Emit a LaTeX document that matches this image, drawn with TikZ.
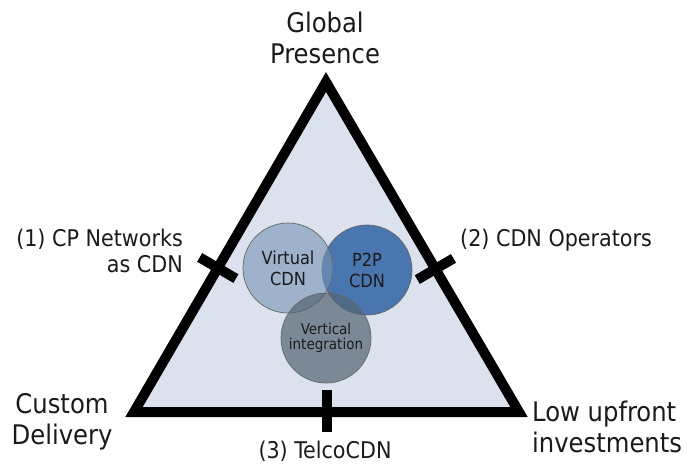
\documentclass[tikz,border=0pt]{standalone}
\usepackage{fontspec}
\setmainfont{DejaVu Sans Condensed}
\usetikzlibrary{calc}
\definecolor{trifill}{HTML}{DBE2EE}
\definecolor{virtc}{HTML}{7693B5}
\definecolor{p2pc}{HTML}{255C9E}
\definecolor{vertc}{HTML}{536473}
\definecolor{txt}{HTML}{1A1A1A}
\tikzset{
  edge/.style={line width=10pt, line join=miter},
  tickmark/.style={line width=10pt},
  bigtxt/.style={font=\fontsize{27}{31}\selectfont, text=txt, inner sep=0pt},
  medtxt/.style={font=\fontsize{23}{26}\selectfont, text=txt, inner sep=0pt},
  ball/.style={circle, minimum size=90pt, inner sep=0pt, draw=black!60, line width=0.7pt, text=txt, align=center},
}
\begin{document}
\begin{tikzpicture}[x=1pt,y=-1pt]
\useasboundingbox (0,0) rectangle (692,464);
\coordinate (A) at (326,82);
\coordinate (L) at (134,412);
\coordinate (R) at (519,412);
\fill[trifill] (A) -- (L) -- (R) -- cycle;
% circles
\node[ball, fill=p2pc, fill opacity=0.8, text opacity=1, font=\fontsize{18}{21}\selectfont] (p2p) at (367,270) {P2P\\CDN};
\node[ball, fill=virtc, fill opacity=0.6, text opacity=1, font=\fontsize{18}{21}\selectfont] (virt) at (288,268) {Virtual\\CDN};
\node[ball, fill=vertc, fill opacity=0.7, text opacity=1, font=\fontsize{15}{15}\selectfont] (vert) at (326,338) {Vertical\\integration};
% triangle outline
\draw[edge] (A) -- (L) -- (R) -- cycle;
% ticks
\coordinate (t1) at ($(A)!0.5636!(L)$);
\coordinate (t2) at ($(A)!0.5667!(R)$);
\draw[tickmark] ($(t1)+(-18.1,-10.6)$) coordinate (t1a) -- ($(t1)+(18.1,10.6)$) coordinate (t1b);
\draw[tickmark] ($(t2)+(-18.1,10.6)$) coordinate (t2a) -- ($(t2)+(18.1,-10.6)$) coordinate (t2b);
\draw[tickmark] (327,390) coordinate (t3a) -- (327,432) coordinate (t3b);
% labels
\node[bigtxt, align=center] (gp) at (325,38) {Global\\Presence};
\node[bigtxt, align=center] (cd) at (62,422) {Custom\\Delivery};
\node[bigtxt, align=left, anchor=west] (lu) at (532,427) {Low upfront\\investments};
\node[medtxt, align=right, anchor=north east] (l1) at (183,229) {(1) CP Networks\\as CDN};
\node[medtxt, anchor=north west] (l2) at (460,229) {(2) CDN Operators};
\node[medtxt] (l3) at (325,451) {(3) TelcoCDN};
\end{tikzpicture}
\end{document}
